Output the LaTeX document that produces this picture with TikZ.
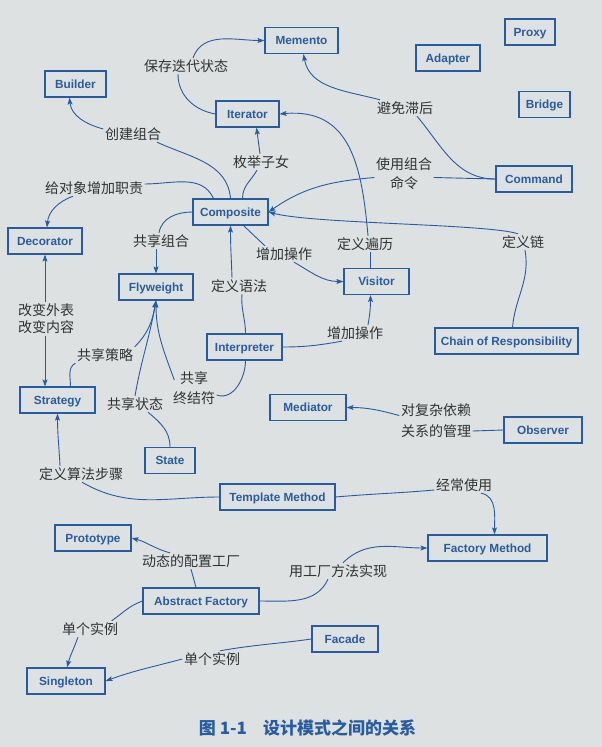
\documentclass[tikz,border=0pt]{standalone}
\usepackage{fontspec}
\setmainfont{Liberation Sans}
\newfontfamily\cjk{Noto Sans CJK SC}
\usetikzlibrary{arrows.meta}
\definecolor{dblue}{RGB}{40,92,162}
\definecolor{paper}{RGB}{221,225,225}
\definecolor{ink}{RGB}{50,50,50}
\tikzset{
  pbox/.style={draw=dblue, line width=1.2pt, fill=paper, text=dblue,
    font=\fontsize{11.8}{13}\selectfont\bfseries, minimum height=26pt,
    text height=9pt, text depth=1pt,
    minimum width=#1, inner sep=2pt},
  lbl/.style={text=ink, font=\cjk\fontsize{14}{19}\selectfont, inner sep=1.5pt, align=center},
  conn/.style={draw=dblue, line width=0.9pt},
  arr/.style={conn, -{Stealth[length=7pt,width=5pt,inset=1.5pt]}},
}
\begin{document}
\begin{tikzpicture}[x=1pt,y=-1pt]
\fill[paper] (0,0) rectangle (602,747);
\useasboundingbox (0,0) rectangle (602,747);

% boxes
\node[pbox=73pt] (memento) at (301.5,40.5) {Memento};
\node[pbox=50pt] (proxy) at (530,32) {Proxy};
\node[pbox=64pt] (adapter) at (448,58) {Adapter};
\node[pbox=61pt] (builder) at (75.5,84) {Builder};
\node[pbox=63pt] (iterator) at (247.5,114) {Iterator};
\node[pbox=51pt] (bridge) at (544.5,104.5) {Bridge};
\node[pbox=76pt] (command) at (534,179) {Command};
\node[pbox=75pt] (composite) at (230.5,212) {Composite};
\node[pbox=74pt] (decorator) at (45,241) {Decorator};
\node[pbox=74pt] (flyweight) at (156,287) {Flyweight};
\node[pbox=65pt] (visitor) at (376.5,281.5) {Visitor};
\node[pbox=75pt] (interpreter) at (244.5,347) {Interpreter};
\node[pbox=143pt] (chain) at (506.5,341) {Chain of Responsibility};
\node[pbox=75pt] (strategy) at (57.5,400) {Strategy};
\node[pbox=76pt] (mediator) at (308,407.5) {Mediator};
\node[pbox=78pt] (observer) at (543,430) {Observer};
\node[pbox=50pt] (state) at (170,460.5) {State};
\node[pbox=115pt] (template) at (277.5,497) {Template Method};
\node[pbox=76pt] (prototype) at (93,538) {Prototype};
\node[pbox=119pt] (factorym) at (487.5,548) {Factory Method};
\node[pbox=116pt] (abstractf) at (201,601) {Abstract Factory};
\node[pbox=66pt] (facade) at (345,639) {Facade};
\node[pbox=78pt] (singleton) at (66,681) {Singleton};

% labels
\node[lbl] (l1) at (186,66) {保存迭代状态};
\node[lbl] (l2) at (133,134) {创建组合};
\node[lbl] (l3) at (261,162) {枚举子女};
\node[lbl] (l4) at (94,188) {给对象增加职责};
\node[lbl] (l5) at (405,108) {避免滞后};
\node[lbl] (l6) at (404,173.5) {使用组合\\命令};
\node[lbl] (l7) at (161,241) {共享组合};
\node[lbl] (l8) at (284,254) {增加操作};
\node[lbl] (l9) at (365,244) {定义遍历};
\node[lbl] (l10) at (523,242) {定义链};
\node[lbl] (l11) at (239,286) {定义语法};
\node[lbl] (l12) at (46,319) {改变外表\\[-2pt]改变内容};
\node[lbl] (l13) at (355,333) {增加操作};
\node[lbl] (l14) at (105,355) {共享策略};
\node[lbl] (l15) at (194,388) {共享\\[1pt]终结符};
\node[lbl] (l16) at (135,404) {共享状态};
\node[lbl] (l17) at (436,420.5) {对复杂依赖\\[2pt]关系的管理};
\node[lbl] (l18) at (81,474) {定义算法步骤};
\node[lbl] (l19) at (464,485) {经常使用};
\node[lbl] (l20) at (191,561) {动态的配置工厂};
\node[lbl] (l21) at (338,571) {用工厂方法实现};
\node[lbl] (l22) at (90,629) {单个实例};
\node[lbl] (l23) at (212,659) {单个实例};

% connectors
\draw[conn] (iterator.west) to[out=170,in=-90] ([xshift=-8pt]l1.south);
\draw[arr] ([xshift=7pt]l1.north) to[out=70,in=180] (memento.west);

\draw[conn] (command.west) to[out=180,in=-50] ([xshift=12pt]l5.south);
\draw[arr] ([xshift=-25pt]l5.north) to[out=165,in=-80] ([xshift=2pt]memento.south);

\draw[conn] (composite.north) to[out=95,in=-25] ([xshift=24pt]l2.south);
\draw[arr] ([yshift=5pt]l2.west) to[out=165,in=-85] ([xshift=-6pt]builder.south);

\draw[conn] ([xshift=12pt]composite.north) to[out=90,in=-120] ([xshift=-4pt]l3.south);
\draw[arr] ([xshift=-1pt]l3.north) -- ([xshift=9pt]iterator.south);

\draw[conn] ([xshift=-17pt]composite.north) to[out=115,in=0] ([yshift=4pt]l4.east);
\draw[arr] ([xshift=-21pt]l4.south) to[out=200,in=85] ([xshift=2pt]decorator.north);

\draw[conn] (command.west) -- ([yshift=-4pt]l6.east);
\draw[arr] ([yshift=-4pt]l6.west) to[out=185,in=35] (composite.east);

\draw[conn] ([xshift=6pt]chain.north) to[out=85,in=-80] ([xshift=2pt]l10.south);
\draw[arr] ([xshift=-5pt]l10.north) .. controls +(-30,-10) and +(45,12) .. (composite.east);

\draw[conn] ([xshift=-6pt]visitor.north) -- ([xshift=-6pt]visitor.north |- l9.south);
\draw[arr] ([xshift=3pt]l9.north) to[out=95,in=5,looseness=1.2] (iterator.east);

\draw[conn] (composite.west) to[out=180,in=80] ([xshift=-2pt]l7.north);
\draw[arr] ([xshift=-5pt]l7.south) -- (flyweight.north);

\draw[conn] ([xshift=13pt]composite.south) -- ([xshift=-19pt]l8.north);
\draw[arr] ([xshift=10pt]l8.south) to[out=-30,in=180] (visitor.west);

\draw[conn] ([xshift=1pt]interpreter.north) to[out=90,in=-95] ([xshift=3pt]l11.south);
\draw[arr] ([xshift=-7pt]l11.north) to[out=92,in=-90] (composite.south);

\draw[conn] (interpreter.east) to[out=0,in=-170] ([xshift=-13pt]l13.south);
\draw[arr] ([xshift=13pt]l13.north) to[out=80,in=-90] ([xshift=-6pt]visitor.south);

\draw[conn] ([xshift=1pt]interpreter.south) to[out=-90,in=-20] ([yshift=-7pt]l15.east);
\draw[arr] ([xshift=3pt,yshift=8pt]l15.west) to[out=110,in=-90] (flyweight.south);

\draw[conn] ([xshift=13pt]strategy.north) to[out=90,in=-150] (l14.south west);
\draw[arr] (l14.north east) to[out=45,in=-100] (flyweight.south);

\draw[conn] (state.north) to[out=90,in=-40] ([xshift=13pt]l16.south);
\draw[arr] (l16.north) to[out=80,in=-100] (flyweight.south);

\draw[arr] (decorator.south |- l12.north) -- (decorator.south);
\draw[arr] (decorator.south |- l12.south) -- (decorator.south |- strategy.north);

\draw[conn] (template.west) to[out=180,in=-30] ([xshift=1pt]l18.south);
\draw[arr] ([xshift=-21pt]l18.north) to[out=93,in=-90] (strategy.south);

\draw[conn] (template.east) to[out=5,in=185] ([yshift=-5pt]l19.west);
\draw[arr] ([xshift=17pt]l19.south) to[out=-10,in=90] ([xshift=7pt]factorym.north);

\draw[conn] (observer.west) -- ([yshift=-10.5pt]l17.east);
\draw[arr] ([yshift=5pt]l17.west) to[out=165,in=0] (mediator.east);

\draw[conn] ([xshift=-5pt]abstractf.north) -- (l20.south);
\draw[arr] ([xshift=-21pt]l20.north) to[out=165,in=-15] (prototype.east);

\draw[conn] (abstractf.east) to[out=0,in=-115] ([xshift=-10pt]l21.south);
\draw[arr] ([xshift=5pt]l21.north) to[out=45,in=180] (factorym.west);

\draw[conn] (abstractf.west) to[out=200,in=35] ([xshift=-8pt]l22.north east);
\draw[arr] ([xshift=-12pt]l22.south) to[out=-110,in=75] ([xshift=1pt]singleton.north);

\draw[conn] (facade.west) to[out=188,in=10] ([xshift=8pt]l23.north);
\draw[arr] (l23.west) to[out=195,in=20] (singleton.east);

% caption
\node[text=dblue, font=\cjk\bfseries\fontsize{17}{20}\selectfont] (caption) at (307.5,728) {图 1-1\hspace{16pt}设计模式之间的关系};
\end{tikzpicture}
\end{document}
